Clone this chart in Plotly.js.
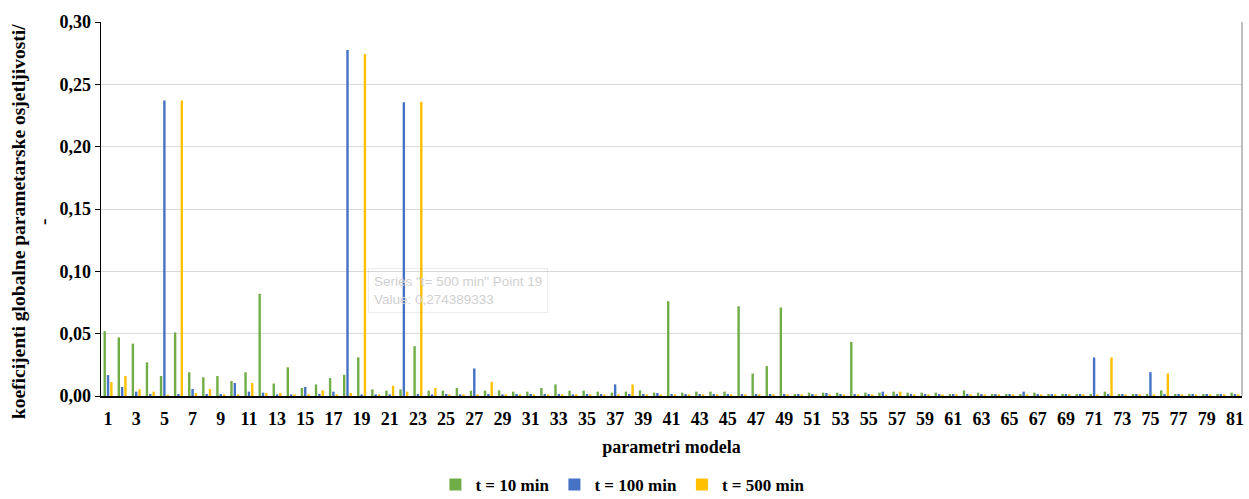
<!DOCTYPE html>
<html>
<head>
<meta charset="utf-8">
<script src="https://cdn.plot.ly/plotly-3.0.1.min.js"></script>
<style>
html,body{margin:0;padding:0;background:#fff;}
#chart{width:1249px;height:499px;}
</style>
</head>
<body>
<div id="chart"></div>
<script>
const categories = [1,2,3,4,5,6,7,8,9,10,11,12,13,14,15,16,17,18,19,20,21,22,23,24,25,26,27,28,29,30,31,32,33,34,35,36,37,38,39,40,41,42,43,44,45,46,47,48,49,50,51,52,53,54,55,56,57,58,59,60,61,62,63,64,65,66,67,68,69,70,71,72,73,74,75,76,77,78,79,80,81];

const tickLabels = [1,3,5,7,9,11,13,15,17,19,21,23,25,27,29,31,33,35,37,39,41,43,45,47,49,51,53,55,57,59,61,63,65,67,69,71,73,75,77,79,81];

const seriesNames = ["t = 10 min", "t = 100 min", "t = 500 min"];

const t10 = [0.052,0.047,0.042,0.027,0.016,0.051,0.019,0.015,0.016,0.012,
             0.019,0.082,0.010,0.023,0.0064,0.0093,0.0144,0.017,0.031,0.0053,
             0.0043,0.0053,0.040,0.0043,0.0043,0.0064,0.0043,0.0043,0.0045,0.0035,
             0.0035,0.0064,0.0093,0.0043,0.0043,0.0035,0.0027,0.0035,0.0045,0.0027,
             0.076,0.0027,0.0035,0.0035,0.0035,0.072,0.018,0.024,0.071,0.0016,
             0.0027,0.0027,0.0027,0.0434,0.0027,0.0027,0.0035,0.0027,0.0027,0.0027,
             0.0016,0.0045,0.0027,0.0016,0.0016,0.0016,0.0027,0.0016,0.0016,0.0016,
             0.0016,0.0035,0.0016,0.0016,0.0016,0.0045,0.0016,0.0016,0.0016,0.0016,
             0.0027];

const t100 = [0.0168,0.0072,0.0035,0.0016,0.237,0.0016,0.0056,0.0016,0.0016,0.0104,
              0.0035,0.0027,0.0013,0.0013,0.0072,0.0016,0.0035,0.2776,0.0013,0.0013,
              0.0013,0.2356,0.0016,0.0013,0.0016,0.0013,0.0221,0.0016,0.0013,0.0016,
              0.0016,0.0016,0.0016,0.0013,0.0016,0.0016,0.0093,0.0016,0.0016,0.0024,
              0.0016,0.0016,0.0016,0.0016,0.0016,0.0016,0.0016,0.0016,0.0016,0.0016,
              0.0016,0.0024,0.0016,0.0016,0.0016,0.0035,0.0016,0.0016,0.0016,0.0016,
              0.0016,0.0016,0.0016,0.0016,0.0016,0.0035,0.0016,0.0016,0.0016,0.0016,
              0.0309,0.0016,0.0016,0.0016,0.0191,0.0016,0.0016,0.0016,0.0016,0.0016,
              0.0016];

const t500 = [0.0112,0.016,0.0053,0.0035,0.0010,0.237,0.0024,0.0056,0.0013,0.0013,
              0.0104,0.0024,0.0024,0.0013,0.0013,0.0045,0.0013,0.0024,0.274389333,0.0013,
              0.0082,0.0035,0.236,0.0064,0.0013,0.0013,0.0013,0.0114,0.0013,0.0013,
              0.0013,0.0013,0.0013,0.0013,0.0013,0.0013,0.0013,0.0093,0.0013,0.0013,
              0.0013,0.0013,0.0013,0.0013,0.0013,0.0013,0.0013,0.0013,0.0013,0.0013,
              0.0013,0.0013,0.0013,0.0013,0.0013,0.0013,0.0035,0.0013,0.0013,0.0013,
              0.0013,0.0013,0.0013,0.0013,0.0013,0.0013,0.0013,0.0013,0.0013,0.0013,
              0.0013,0.0309,0.0013,0.0013,0.0013,0.0181,0.0013,0.0013,0.0013,0.0013,
              0.0013];

const colors = ["#70AD47", "#4472C4", "#FFC000"];
const serif = "Liberation Serif, Times New Roman, serif";

const traces = [t10, t100, t500].map((vals, i) => ({
  type: "bar",
  name: seriesNames[i],
  x: categories,
  y: vals,
  marker: {color: colors[i], line: {width: 0}},
  hoverinfo: "none"
}));

const layout = {
  width: 1249,
  height: 499,
  margin: {l: 101, r: 7, t: 22, b: 103, autoexpand: false},
  paper_bgcolor: "#ffffff",
  plot_bgcolor: "#ffffff",
  separators: ", ",
  barmode: "group",
  bargap: 0.29,
  bargroupgap: 0.28,
  font: {family: serif, size: 18, color: "#000000", weight: "bold"},
  showlegend: true,
  legend: {
    orientation: "h",
    x: 0.457, xanchor: "center",
    y: -0.238, yanchor: "middle",
    font: {family: serif, size: 17, color: "#000", weight: "bold"},
    itemwidth: 30,
    tracegroupgap: 0
  },
  xaxis: {
    range: [0.5, 81.5],
    tickmode: "array",
    tickvals: tickLabels,
    ticktext: tickLabels.map(String),
    ticks: "outside",
    ticklen: 6,
    tickcolor: "rgba(0,0,0,0)",
    showline: true,
    linecolor: "#000000",
    linewidth: 1.5,
    showgrid: false,
    zeroline: false,
    automargin: false,
    tickfont: {family: serif, size: 18, color: "#000", weight: "bold"},
    title: {text: "parametri modela", font: {family: serif, size: 18, color: "#000", weight: "bold"}, standoff: 12}
  },
  yaxis: {
    range: [0, 0.30],
    dtick: 0.05,
    tick0: 0,
    tickformat: ".2f",
    ticks: "outside",
    ticklen: 5,
    tickcolor: "#000000",
    showline: true,
    linecolor: "#000000",
    linewidth: 1.5,
    showgrid: true,
    gridcolor: "#d9d9d9",
    gridwidth: 1,
    zeroline: false,
    automargin: false,
    tickfont: {family: serif, size: 18, color: "#000", weight: "bold"}
  },
  shapes: [
    {type: "line", xref: "paper", yref: "paper", x0: 1, x1: 1, y0: 0, y1: 1,
     line: {color: "#808080", width: 1}}
  ],
  annotations: [
    {
      xref: "paper", yref: "paper",
      x: -0.0613, y: 0.465,
      xanchor: "center", yanchor: "middle",
      textangle: -90,
      showarrow: false,
      align: "center",
      text: "koeficijenti globalne parametarske osjetljivosti/<br>-",
      font: {family: serif, size: 19.5, color: "#000", weight: "bold"}
    },
    {
      xref: "paper", yref: "paper",
      x: 0.234, y: 0.342,
      xanchor: "left", yanchor: "top",
      showarrow: false,
      align: "left",
      text: "Series \"t= 500 min\" Point 19<br>Value: 0,274389333",
      font: {family: "Liberation Sans, Arial, sans-serif", size: 13.5, color: "#d0d0d0", weight: "normal"},
      bordercolor: "rgba(0,0,0,0.07)",
      borderwidth: 1,
      borderpad: 5
    }
  ]
};

Plotly.newPlot("chart", traces, layout, {displayModeBar: false, staticPlot: true});
</script>
</body>
</html>
